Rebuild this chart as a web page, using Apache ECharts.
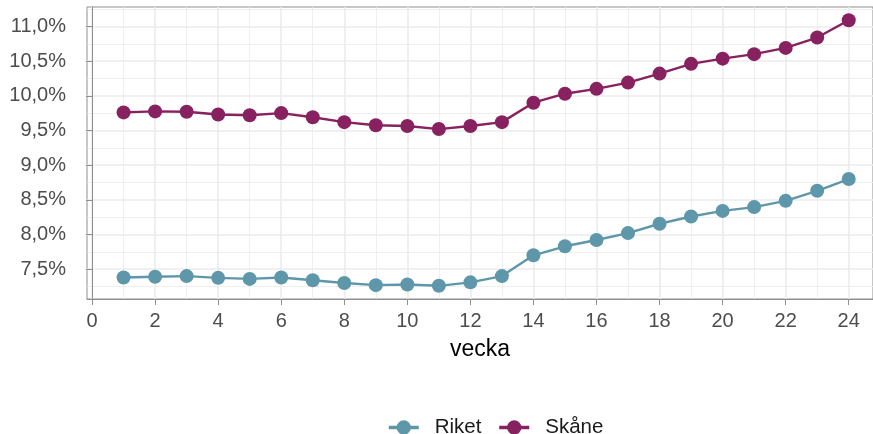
<!DOCTYPE html>
<html lang="sv" style="height: 100%">
   <head>
      <meta charset="utf-8">
   </head>
   <body style="height: 100%; margin: 0">
      <div id="container" style="width: 873px; height: 434px"></div>
      <script type="text/javascript" src="https://fastly.jsdelivr.net/npm/echarts@6.0.0/dist/echarts.min.js"></script>
      <script type="text/javascript">
var weeks = [1, 2, 3, 4, 5, 6, 7, 8, 9, 10, 11, 12, 13, 14, 15, 16, 17, 18, 19, 20, 21, 22, 23, 24];
var riket = [7.38, 7.39, 7.40, 7.375, 7.36, 7.38, 7.34, 7.30, 7.27, 7.28, 7.26, 7.31, 7.40, 7.70, 7.83,
  7.92, 8.02, 8.155, 8.26, 8.34, 8.395, 8.485, 8.63, 8.80];
var skane = [9.76, 9.775, 9.77, 9.73, 9.72, 9.75, 9.69, 9.62, 9.575, 9.565, 9.52, 9.565, 9.62, 9.90, 10.03,
  10.10, 10.19, 10.32, 10.46, 10.535, 10.60, 10.69, 10.84, 11.09];
var xTicks = [0, 2, 4, 6, 8, 10, 12, 14, 16, 18, 20, 22, 24];
var xMinor = [1, 3, 5, 7, 9, 11, 13, 15, 17, 19, 21, 23];
var yTicks = [7.5, 8.0, 8.5, 9.0, 9.5, 10.0, 10.5, 11.0];
var yMinor = [7.25, 7.75, 8.25, 8.75, 9.25, 9.75, 10.25, 10.75, 11.25];

var dom = document.getElementById('container');
var myChart = echarts.init(dom, null, { renderer: 'canvas' });

function pair(xs, ys) {
  return xs.map(function (x, i) { return [x, ys[i]]; });
}
var borderCol = '#8f8f8f';
var gridCol = '#ebebeb';
var font = 'Liberation Sans, Arial, sans-serif';

var option = {
  animation: false,
  color: ['#5e97a9', '#87215f'],
  grid: {
    left: 87,
    right: -2,
    top: 7,
    bottom: 135,
    show: true,
    borderColor: borderCol,
    borderWidth: 1
  },
  xAxis: [{
      type: 'value',
      min: -0.16,
      max: 24.77,
      name: 'vecka',
      nameLocation: 'middle',
      nameGap: 39,
      nameTextStyle: { fontSize: 23, color: '#000', fontFamily: font },
      axisLine: { show: true, lineStyle: { color: borderCol, width: 1 } },
      axisTick: { show: true, length: 6, customValues: xTicks, lineStyle: { color: borderCol } },
      axisLabel: { customValues: xTicks, fontSize: 20, color: '#4d4d4d', margin: 12, fontFamily: font },
      splitLine: { show: true, lineStyle: { color: gridCol, width: 1.6 } }
    },
    {
      type: 'value',
      min: -0.16,
      max: 24.77,
      axisLine: { show: false },
      axisTick: { show: false, customValues: xMinor },
      axisLabel: { show: false, customValues: xMinor },
      splitLine: { show: true, lineStyle: { color: gridCol, width: 0.8 } }
    }
  ],
  yAxis: [{
      type: 'value',
      min: 7.07,
      max: 11.28,
      axisLine: { show: true, lineStyle: { color: borderCol, width: 1 } },
      axisTick: { show: true, length: 6, customValues: yTicks, lineStyle: { color: borderCol } },
      axisLabel: {
        customValues: yTicks,
        fontSize: 20,
        color: '#4d4d4d',
        margin: 21,
        fontFamily: font,
        formatter: function (v) { return v.toFixed(1).replace('.', ',') + '%'; }
      },
      splitLine: { show: true, lineStyle: { color: gridCol, width: 1.6 } }
    },
    {
      type: 'value',
      min: 7.07,
      max: 11.28,
      axisLine: { show: false },
      axisTick: { show: false, customValues: yMinor },
      axisLabel: { show: false, customValues: yMinor },
      splitLine: { show: true, lineStyle: { color: gridCol, width: 0.8 } }
    }
  ],
  legend: {
    top: 417,
    left: 387,
    padding: 0,
    itemWidth: 30,
    itemHeight: 18,
    itemGap: 16,
    lineStyle: { width: 3.5 },
    textStyle: { fontSize: 20.5, color: '#1a1a1a', fontFamily: font, padding: [0, 0, 0, 11] },
    data: ['Riket', 'Skåne']
  },
  series: [{
      name: 'Riket',
      type: 'line',
      data: pair(weeks, riket),
      symbol: 'circle',
      symbolSize: 14,
      lineStyle: { width: 2.4 },
      z: 3
    },
    {
      name: 'Skåne',
      type: 'line',
      data: pair(weeks, skane),
      symbol: 'circle',
      symbolSize: 14,
      lineStyle: { width: 2.4 },
      z: 3
    }
  ]
};
myChart.setOption(option);
window.addEventListener('resize', myChart.resize);
      </script>
   </body>
</html>
